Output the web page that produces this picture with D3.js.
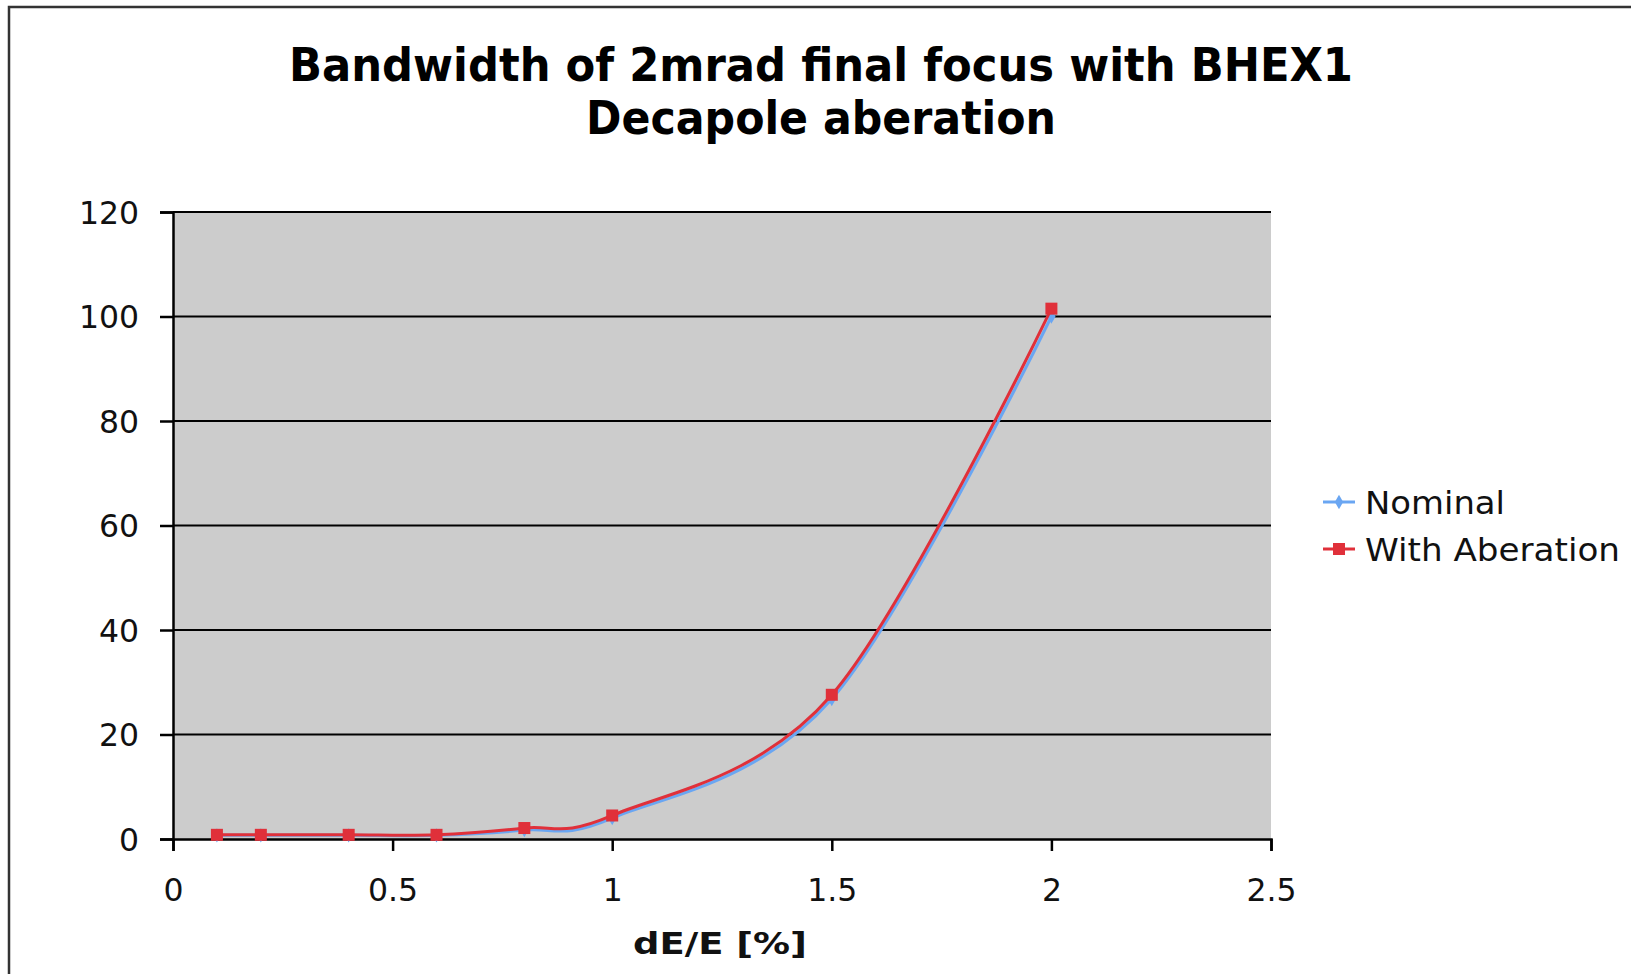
<!DOCTYPE html>
<html><head><meta charset="utf-8">
<script src="https://cdn.jsdelivr.net/npm/d3@7"></script>
<style>html,body{margin:0;padding:0;background:#fff;overflow:hidden}svg{display:block}</style>
</head><body>
<svg id="chart" width="1631" height="974"></svg>
<script>
const titleLines = ["Bandwidth of 2mrad final focus with BHEX1", "Decapole aberation"];
const xLabel = "dE/E [%]";
const xValues = [0.1, 0.2, 0.4, 0.6, 0.8, 1.0, 1.5, 2.0];
const nominal = [0.7, 0.7, 0.7, 0.7, 1.7, 4.0, 26.8, 100.0];
const withAberation = [0.8, 0.8, 0.8, 0.8, 2.1, 4.5, 27.6, 101.5];
const seriesNames = ["Nominal", "With Aberation"];
const xTicks = [0, 0.5, 1, 1.5, 2, 2.5];
const yTicks = [0, 20, 40, 60, 80, 100, 120];

const svg = d3.select("#chart");
const W = 1631, H = 974;
const m = {left: 173, right: 1271, top: 212, bottom: 839};
const blue = "#6aa6f2", red = "#e0303a";
const font = "'DejaVu Sans', Verdana, sans-serif";

// outer frame
svg.append("rect").attr("x", 9).attr("y", 7).attr("width", W + 20).attr("height", H + 20)
  .attr("fill", "#fff").attr("stroke", "#333").attr("stroke-width", 2.5);

const x = d3.scaleLinear().domain([0, 2.5]).range([m.left, m.right]);
const y = d3.scaleLinear().domain([0, 120]).range([m.bottom, m.top]);

// plot area
svg.append("rect").attr("x", m.left).attr("y", m.top)
  .attr("width", m.right - m.left).attr("height", m.bottom - m.top).attr("fill", "#cccccc");

// grid lines
svg.append("g").selectAll("line").data(yTicks.filter(d => d > 0)).join("line")
  .attr("x1", m.left).attr("x2", m.right).attr("y1", d => y(d)).attr("y2", d => y(d))
  .attr("stroke", "#000").attr("stroke-width", 2);

// axes
const yAxis = svg.append("g").attr("transform", `translate(${m.left},0)`)
  .call(d3.axisLeft(y).tickValues(yTicks).tickSize(13).tickPadding(21).tickFormat(d3.format("d")));
const xAxis = svg.append("g").attr("transform", `translate(0,${m.bottom})`)
  .call(d3.axisBottom(x).tickValues(xTicks).tickSize(12).tickPadding(28).tickFormat(d => String(d)));
[yAxis, xAxis].forEach(a => {
  a.select(".domain").attr("stroke", "#000").attr("stroke-width", 2.5);
  a.selectAll(".tick line").attr("stroke", "#000").attr("stroke-width", 2.5);
  a.selectAll(".tick text").attr("font-family", font).attr("font-size", 31.5).attr("fill", "#111");
});
yAxis.selectAll(".tick text").attr("dx", 0).attr("dy", "0.36em");
xAxis.selectAll(".tick text").attr("dy", "0.71em");

// lines
const line = d3.line().x(d => x(d[0])).y(d => y(d[1])).curve(d3.curveCardinal.tension(0));
const nomData = xValues.map((v, i) => [v, nominal[i]]);
const abData = xValues.map((v, i) => [v, withAberation[i]]);
svg.append("path").datum(nomData).attr("d", line).attr("fill", "none")
  .attr("stroke", blue).attr("stroke-width", 3);
svg.append("g").selectAll("path").data(nomData).join("path")
  .attr("d", d3.symbol().type(d3.symbolDiamond).size(60))
  .attr("transform", d => `translate(${x(d[0])},${y(d[1])})`).attr("fill", blue);
svg.append("path").datum(abData).attr("d", line).attr("fill", "none")
  .attr("stroke", red).attr("stroke-width", 3);
svg.append("g").selectAll("rect").data(abData).join("rect")
  .attr("x", d => x(d[0]) - 6).attr("y", d => y(d[1]) - 6).attr("width", 12).attr("height", 12)
  .attr("fill", red);

// title
const tw = [1064, 470];
const tb = [81, 134];
titleLines.forEach((t, i) => {
  svg.append("text").attr("x", 821).attr("y", tb[i]).attr("text-anchor", "middle")
    .attr("font-family", font).attr("font-weight", "bold").attr("font-size", 46)
    .attr("textLength", tw[i]).attr("lengthAdjust", "spacingAndGlyphs")
    .attr("fill", "#000").text(t);
});

// x axis label
svg.append("text").attr("x", 720).attr("y", 954).attr("text-anchor", "middle")
  .attr("font-family", font).attr("font-weight", "bold").attr("font-size", 30)
  .attr("textLength", 174).attr("lengthAdjust", "spacingAndGlyphs")
  .attr("fill", "#111").text(xLabel);

// legend
const legY = [502, 549];
const legW = [140, 255];
const legColors = [blue, red];
seriesNames.forEach((n, i) => {
  const g = svg.append("g");
  g.append("line").attr("x1", 1323).attr("x2", 1355).attr("y1", legY[i]).attr("y2", legY[i])
    .attr("stroke", legColors[i]).attr("stroke-width", 3);
  if (i === 0) {
    g.append("path").attr("d", d3.symbol().type(d3.symbolDiamond).size(60))
      .attr("transform", `translate(1339,${legY[i]})`).attr("fill", blue);
  } else {
    g.append("rect").attr("x", 1333).attr("y", legY[i] - 6).attr("width", 12).attr("height", 12).attr("fill", red);
  }
  g.append("text").attr("x", 1365).attr("y", legY[i]).attr("dy", "0.36em")
    .attr("font-family", font).attr("font-size", 32)
    .attr("textLength", legW[i]).attr("lengthAdjust", "spacingAndGlyphs")
    .attr("fill", "#111").text(n);
});
</script>
</body></html>
